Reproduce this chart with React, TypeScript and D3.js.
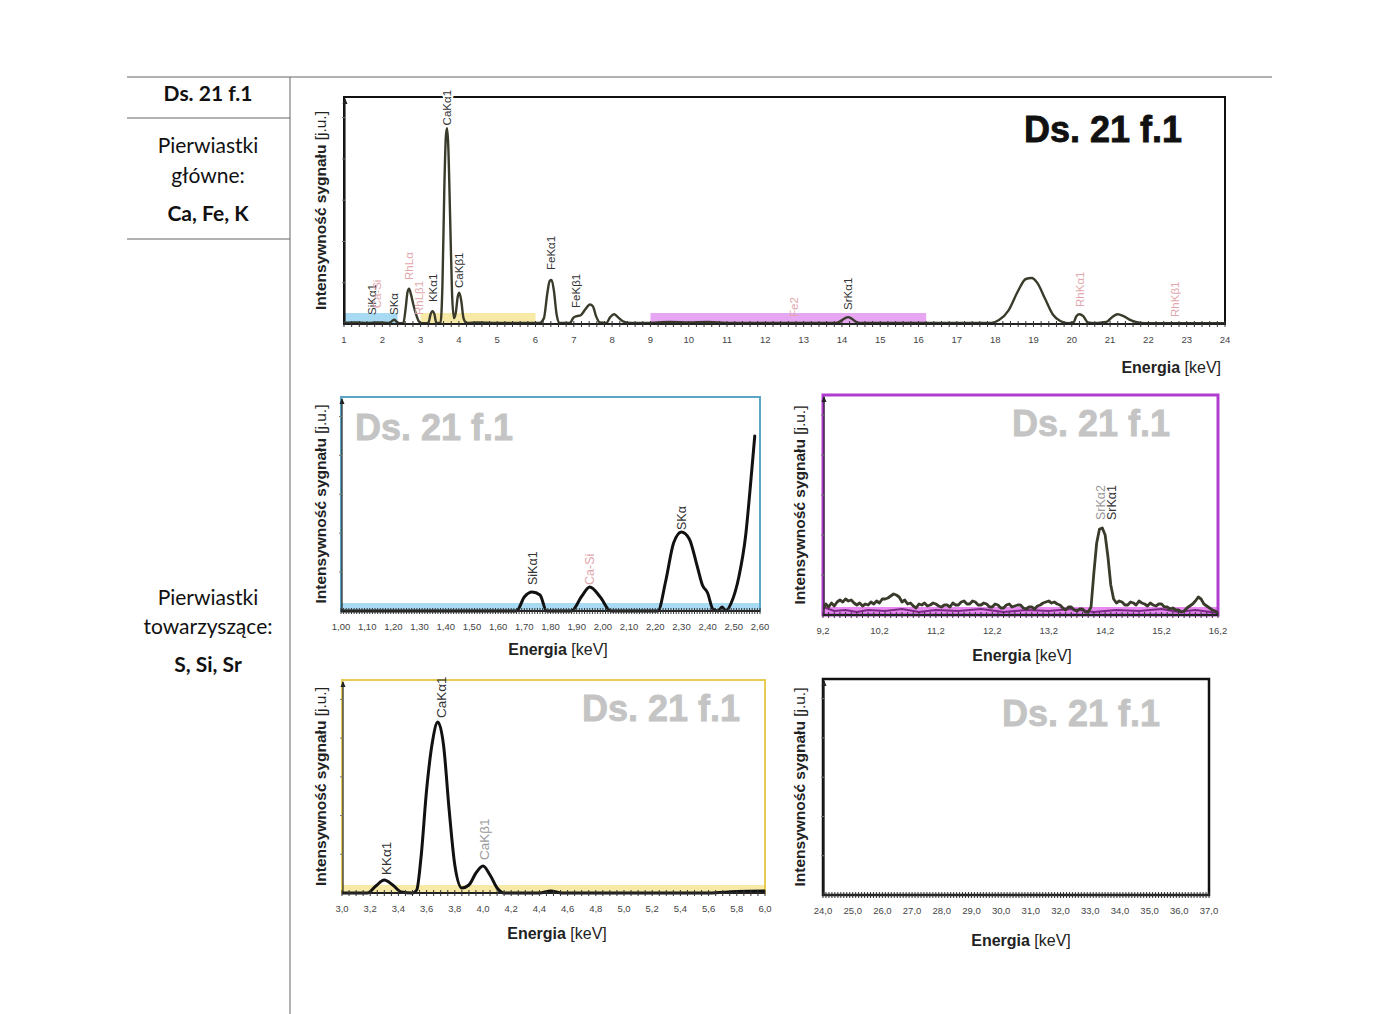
import React from "react";
import * as d3 from "d3";

// ---------------- DATA ----------------
// Full spectrum (keV, intensity a.u.)
const mainSpectrum: [number, number][] = [
  [1.0, 0.6], [1.3, 0.8], [1.6, 0.6], [1.9, 0.8], [2.2, 0.6], [2.27, 1.8], [2.32, 2.2], [2.38, 1.0],
  [2.45, 0.4], [2.55, 0.6], [2.61, 8], [2.66, 16.5], [2.7, 18], [2.75, 15], [2.81, 10], [2.88, 5],
  [2.95, 1.5], [3.02, 0.4], [3.2, 0.4], [3.26, 5], [3.31, 6.6], [3.36, 5], [3.41, 0.6], [3.52, 0.6],
  [3.57, 20], [3.62, 70], [3.66, 96], [3.69, 100], [3.72, 92], [3.77, 55], [3.82, 16], [3.87, 3],
  [3.92, 6], [3.97, 14], [4.01, 16], [4.06, 12], [4.12, 3], [4.2, 0.5], [4.5, 0.8], [5.0, 0.5],
  [5.5, 0.5], [6.1, 0.5], [6.22, 3], [6.31, 16], [6.37, 22], [6.42, 22.5], [6.48, 17], [6.55, 5],
  [6.63, 0.5], [6.9, 0.5], [6.98, 3], [7.08, 4], [7.18, 4.5], [7.3, 7.5], [7.42, 10], [7.5, 9],
  [7.58, 4], [7.68, 0.8], [7.85, 0.6], [7.95, 3.5], [8.05, 5], [8.15, 3.5], [8.3, 1.2], [8.5, 0.5],
  [9.0, 0.6], [9.5, 1.0], [10.0, 0.8], [10.5, 1.0], [11.0, 0.6], [12.0, 0.5], [13.0, 0.5], [13.85, 0.5],
  [14.16, 3.5], [14.45, 0.5], [15.0, 0.5], [16.0, 0.6], [17.0, 0.5], [17.9, 0.6], [18.1, 2], [18.35, 7],
  [18.6, 17], [18.8, 23], [18.95, 23.5], [19.1, 21], [19.3, 13], [19.5, 5], [19.7, 1.5], [19.9, 0.4],
  [20.05, 1], [20.12, 4], [20.2, 5], [20.3, 4], [20.42, 0.8], [20.6, 0.4], [20.9, 1], [21.05, 3.5],
  [21.2, 5], [21.35, 4], [21.55, 1.8], [21.8, 0.6], [22.0, 0.4], [23.0, 0.4], [24.0, 0.4],
];

// Si / S detail (1.00 - 2.60 keV)
const siSpectrum: [number, number][] = [
  [1.0, 0], [1.67, 0], [1.7, 14], [1.73, 19], [1.76, 16], [1.785, 0], [1.88, 0], [1.92, 15],
  [1.95, 24], [1.99, 14], [2.03, 0], [2.21, 0], [2.24, 30], [2.27, 68], [2.3, 79], [2.33, 72],
  [2.36, 45], [2.38, 26], [2.4, 18], [2.42, 2], [2.44, 0], [2.455, 4], [2.47, 0], [2.49, 8],
  [2.52, 35], [2.545, 75], [2.565, 130], [2.58, 175],
];

// Sr detail (9.2 - 16.2 keV)
const srSpectrum: [number, number][] = [
  [9.2, 6], [9.25, 11], [9.3, 8], [9.35, 12], [9.4, 9], [9.45, 13], [9.5, 15], [9.55, 13], [9.6, 16],
  [9.65, 14], [9.7, 15], [9.75, 12], [9.8, 10], [9.85, 12], [9.9, 9], [9.95, 11], [10.0, 10], [10.05, 13],
  [10.1, 11], [10.15, 14], [10.2, 12], [10.25, 16], [10.3, 16], [10.35, 17], [10.4, 19], [10.45, 21],
  [10.5, 20], [10.55, 18], [10.6, 13], [10.65, 15], [10.7, 11], [10.75, 12], [10.8, 9], [10.85, 7],
  [10.9, 11], [10.95, 10], [11.0, 12], [11.05, 9], [11.1, 10], [11.15, 12], [11.2, 11], [11.25, 9],
  [11.3, 8], [11.35, 10], [11.4, 10], [11.45, 8], [11.5, 12], [11.55, 10], [11.6, 10], [11.65, 13],
  [11.7, 14], [11.75, 11], [11.8, 11], [11.85, 14], [11.9, 13], [11.95, 10], [12.0, 10], [12.05, 12],
  [12.1, 11], [12.15, 8], [12.2, 8], [12.25, 11], [12.3, 10], [12.35, 7], [12.4, 7], [12.45, 10],
  [12.5, 11], [12.55, 8], [12.6, 9], [12.65, 10], [12.7, 10], [12.75, 7], [12.8, 6], [12.85, 8],
  [12.9, 8], [12.95, 6], [13.0, 9], [13.05, 10], [13.1, 12], [13.15, 13], [13.2, 14], [13.25, 12],
  [13.3, 13], [13.35, 11], [13.4, 10], [13.45, 7], [13.5, 5], [13.55, 8], [13.6, 8], [13.65, 5],
  [13.7, 4], [13.75, 6], [13.8, 6], [13.85, 3], [13.9, 3], [13.95, 8], [14.0, 42], [14.05, 72],
  [14.1, 86], [14.15, 87], [14.2, 80], [14.25, 58], [14.3, 30], [14.35, 16], [14.4, 12], [14.45, 14],
  [14.5, 13], [14.55, 10], [14.6, 10], [14.65, 13], [14.7, 12], [14.75, 10], [14.8, 14], [14.85, 12],
  [14.9, 11], [14.95, 9], [15.0, 12], [15.05, 10], [15.1, 9], [15.15, 11], [15.2, 11], [15.25, 8],
  [15.3, 8], [15.35, 6], [15.4, 7], [15.45, 5], [15.5, 5], [15.55, 3], [15.6, 4], [15.65, 7],
  [15.7, 9], [15.75, 11], [15.8, 14], [15.85, 18], [15.9, 16], [15.95, 11], [16.0, 9], [16.05, 7],
  [16.1, 5], [16.15, 4], [16.2, 2],
];
const srBackground: [number, number][] = [
  [9.2, 8], [9.4, 4], [9.6, 5], [9.8, 3], [10.0, 5], [10.3, 4], [10.6, 6], [10.9, 3], [11.2, 5],
  [11.6, 4], [12.0, 6], [12.4, 3], [12.8, 5], [13.2, 4], [13.6, 6], [14.0, 3], [14.4, 5], [14.8, 4],
  [15.2, 6], [15.5, 3], [15.8, 5], [16.2, 2],
];

// K / Ca detail (3.0 - 6.0 keV)
const caSpectrum: [number, number][] = [
  [3.0, 0], [3.18, 0], [3.24, 7], [3.3, 13], [3.36, 8], [3.42, 1], [3.5, 0], [3.53, 3], [3.56, 35],
  [3.6, 103], [3.64, 150], [3.68, 171], [3.72, 148], [3.76, 83], [3.8, 28], [3.85, 5], [3.9, 8],
  [3.95, 20], [4.0, 27], [4.05, 18], [4.1, 5], [4.15, 0], [4.4, 0], [4.48, 2], [4.56, 0], [5.6, 0],
  [5.8, 1.5], [6.0, 2],
];

// Tick values
const mainTicks = [1, 2, 3, 4, 5, 6, 7, 8, 9, 10, 11, 12, 13, 14, 15, 16, 17, 18, 19, 20, 21, 22, 23, 24];
const siTicks = [1.0, 1.1, 1.2, 1.3, 1.4, 1.5, 1.6, 1.7, 1.8, 1.9, 2.0, 2.1, 2.2, 2.3, 2.4, 2.5, 2.6];
const srTicks = [9.2, 10.2, 11.2, 12.2, 13.2, 14.2, 15.2, 16.2];
const caTicks = [3.0, 3.2, 3.4, 3.6, 3.8, 4.0, 4.2, 4.4, 4.6, 4.8, 5.0, 5.2, 5.4, 5.6, 5.8, 6.0];
const highTicks = [24, 25, 26, 27, 28, 29, 30, 31, 32, 33, 34, 35, 36, 37];

// Highlighted energy ranges in the full spectrum (keV)
const bandStarts = [1.0, 3.0, 9.0];
const bandEnds = [2.4, 6.0, 16.2];

// Peak labels: name, energy, label base (a.u.), kind
type PeakLabel = { name: string; e: number; v: number; kind: "main" | "ref" | "light" };
const mainLabels: PeakLabel[] = [
  { name: "SiKα1", e: 1.74, v: 4.6, kind: "main" },
  { name: "Ca-Si", e: 1.86, v: 8, kind: "ref" },
  { name: "SKα", e: 2.31, v: 4.6, kind: "main" },
  { name: "RhLα", e: 2.7, v: 22.5, kind: "ref" },
  { name: "RhLβ1", e: 2.95, v: 4.6, kind: "ref" },
  { name: "KKα1", e: 3.31, v: 11.2, kind: "main" },
  { name: "CaKα1", e: 3.69, v: 101.5, kind: "main" },
  { name: "CaKβ1", e: 4.01, v: 18.4, kind: "main" },
  { name: "FeKα1", e: 6.4, v: 27.6, kind: "main" },
  { name: "FeKβ1", e: 7.06, v: 8.2, kind: "main" },
  { name: "Fe2", e: 12.75, v: 3.6, kind: "ref" },
  { name: "SrKα1", e: 14.16, v: 7.2, kind: "main" },
  { name: "RhKα1", e: 20.2, v: 8.7, kind: "ref" },
  { name: "RhKβ1", e: 22.7, v: 3.6, kind: "ref" },
];
const siLabels: PeakLabel[] = [
  { name: "SiKα1", e: 1.73, v: 26, kind: "main" },
  { name: "Ca-Si", e: 1.95, v: 26, kind: "ref" },
  { name: "SKα", e: 2.3, v: 81, kind: "main" },
];
const srLabels: PeakLabel[] = [
  { name: "SrKα2", e: 14.11, v: 95, kind: "light" },
  { name: "SrKα1", e: 14.32, v: 95, kind: "main" },
];
const caLabels: PeakLabel[] = [
  { name: "KKα1", e: 3.31, v: 18, kind: "main" },
  { name: "CaKα1", e: 3.7, v: 175, kind: "main" },
  { name: "CaKβ1", e: 4.01, v: 33, kind: "light" },
];

// ---------------- LAYOUT ----------------
const ARIAL = "'Liberation Sans', Arial, Helvetica, sans-serif";
const CAL = "Lato, 'Open Sans', sans-serif";

type Series = { data: [number, number][]; color: string; width: number; curve: any };
type PanelCfg = {
  x0: number; x1: number; y0: number; y1: number;
  xDomain: [number, number]; yMax: number;
  frame: string; frameWidth: number;
  series: Series[];
  ticks: number[]; fmt: (v: number) => string; minorStep: number;
  labels: PeakLabel[]; labelSize: number;
  wmX: number; wmY: number; wmAnchor: string; wmColor: string;
  yLabelX: number; energyX: number; energyY: number; energyAnchor: string;
  bottomBand?: string; bands?: { s: number; e: number; c: string }[];
};

const comma = (d: number) => (v: number) => v.toFixed(d).replace(".", ",");

const bandColors = ["#a9daf3", "#f7eaa6", "#e6a6f2"];

const panels: PanelCfg[] = [
  {
    x0: 344, x1: 1225, y0: 97, y1: 324, xDomain: [1, 24], yMax: 116,
    frame: "#111", frameWidth: 2,
    series: [{ data: mainSpectrum, color: "#3b3b2c", width: 2.4, curve: d3.curveMonotoneX }],
    ticks: mainTicks, fmt: comma(0), minorStep: 0.2,
    labels: mainLabels, labelSize: 11.5,
    wmX: 1182, wmY: 142, wmAnchor: "end", wmColor: "#111",
    yLabelX: 321, energyX: 1221, energyY: 373, energyAnchor: "end",
    bands: bandStarts.map((s, i) => ({ s, e: bandEnds[i], c: bandColors[i] })),
  },
  {
    x0: 341, x1: 760, y0: 397, y1: 611, xDomain: [1, 2.6], yMax: 214,
    frame: "#5aa6c4", frameWidth: 2,
    series: [{ data: siSpectrum, color: "#111", width: 3, curve: d3.curveMonotoneX }],
    ticks: siTicks, fmt: comma(2), minorStep: 0.01,
    labels: siLabels, labelSize: 12.5,
    wmX: 355, wmY: 440, wmAnchor: "start", wmColor: "#c4c4c4",
    yLabelX: 321, energyX: 558, energyY: 655, energyAnchor: "middle",
    bottomBand: "#a9daf3",
  },
  {
    x0: 823, x1: 1218, y0: 395, y1: 615, xDomain: [9.2, 16.2], yMax: 220,
    frame: "#b13cd0", frameWidth: 3,
    series: [
      { data: srBackground, color: "#7b2a86", width: 2, curve: d3.curveLinear },
      { data: srSpectrum, color: "#3b3b2c", width: 2.8, curve: d3.curveLinear },
    ],
    ticks: srTicks, fmt: comma(1), minorStep: 0.1,
    labels: srLabels, labelSize: 12.5,
    wmX: 1170, wmY: 436, wmAnchor: "end", wmColor: "#c4c4c4",
    yLabelX: 800, energyX: 1022, energyY: 661, energyAnchor: "middle",
    bottomBand: "#e98af0",
  },
  {
    x0: 342, x1: 765, y0: 680, y1: 893, xDomain: [3, 6], yMax: 213,
    frame: "#e6cc55", frameWidth: 2,
    series: [{ data: caSpectrum, color: "#111", width: 3, curve: d3.curveMonotoneX }],
    ticks: caTicks, fmt: comma(1), minorStep: 0.05,
    labels: caLabels, labelSize: 13.5,
    wmX: 740, wmY: 721, wmAnchor: "end", wmColor: "#c4c4c4",
    yLabelX: 321, energyX: 557, energyY: 939, energyAnchor: "middle",
    bottomBand: "#f7eaa6",
  },
  {
    x0: 823, x1: 1209, y0: 679, y1: 895, xDomain: [24, 37], yMax: 100,
    frame: "#111", frameWidth: 2.5,
    series: [],
    ticks: highTicks, fmt: comma(1), minorStep: 0.1,
    labels: [], labelSize: 12,
    wmX: 1160, wmY: 726, wmAnchor: "end", wmColor: "#c4c4c4",
    yLabelX: 800, energyX: 1021, energyY: 946, energyAnchor: "middle",
  },
];

const labelColor = (k: string) => (k === "main" ? "#333" : k === "ref" ? "#e2a7ad" : "#9a9a9a");

function Panel({ cfg, idx }: { cfg: PanelCfg; idx: number }) {
  const x = d3.scaleLinear().domain(cfg.xDomain).range([cfg.x0, cfg.x1]);
  const y = d3.scaleLinear().domain([0, cfg.yMax]).range([cfg.y1, cfg.y0]);
  const minor = d3.range(cfg.xDomain[0], cfg.xDomain[1] + cfg.minorStep / 2, cfg.minorStep);
  const yTicks = d3.range(1, 6).map((k) => cfg.y1 - ((cfg.y1 - cfg.y0) * k) / 5.5);
  const clipId = `clip${idx}`;
  const midY = (cfg.y0 + cfg.y1) / 2;
  return (
    <g>
      <defs>
        <clipPath id={clipId}>
          <rect x={cfg.x0} y={cfg.y0 - 2} width={cfg.x1 - cfg.x0} height={cfg.y1 - cfg.y0 + 4} />
        </clipPath>
      </defs>
      {cfg.bands &&
        cfg.bands.map((b, i) => (
          <rect key={i} x={x(b.s)} y={cfg.y1 - 11} width={x(b.e) - x(b.s)} height={11} fill={b.c} />
        ))}
      {cfg.bottomBand && (
        <rect x={cfg.x0} y={cfg.y1 - 8} width={cfg.x1 - cfg.x0} height={8} fill={cfg.bottomBand} />
      )}
      <rect x={cfg.x0} y={cfg.y0} width={cfg.x1 - cfg.x0} height={cfg.y1 - cfg.y0} fill="none"
        stroke={cfg.frame} strokeWidth={cfg.frameWidth} />
      {/* y axis */}
      <line x1={cfg.x0 + 1} x2={cfg.x0 + 1} y1={cfg.y0 + 2} y2={cfg.y1} stroke="#222" strokeWidth={1.2} />
      <path d={`M${cfg.x0 + 1},${cfg.y0 + 1} l-2.5,6 l5,0 z`} fill="#222" />
      {yTicks.map((t, i) => (
        <line key={i} x1={cfg.x0 - 2} x2={cfg.x0 + 1} y1={t} y2={t} stroke="#777" strokeWidth={1} />
      ))}
      <g clipPath={`url(#${clipId})`}>
        {cfg.series.map((s, i) => {
          const line = d3.line<[number, number]>().x((d) => x(d[0])).y((d) => y(d[1])).curve(s.curve);
          return (
            <path key={i} d={line(s.data) || ""} fill="none" stroke={s.color} strokeWidth={s.width}
              strokeLinejoin="round" strokeLinecap="round" />
          );
        })}
      </g>
      {/* baseline with dense ticks */}
      <line x1={cfg.x0} x2={cfg.x1} y1={cfg.y1} y2={cfg.y1} stroke="#222" strokeWidth={2} />
      {minor.map((m, i) => (
        <line key={i} x1={x(m)} x2={x(m)} y1={cfg.y1 - 3} y2={cfg.y1 + 3} stroke="#333" strokeWidth={1} />
      ))}
      {/* tick labels */}
      {cfg.ticks.map((t, i) => (
        <text key={i} x={x(t)} y={cfg.y1 + 19} textAnchor="middle" fontFamily={ARIAL} fontSize={9.5}
          fill="#444">{cfg.fmt(t)}</text>
      ))}
      {/* peak labels */}
      {cfg.labels.map((l, i) => (
        <text key={i} transform={`translate(${x(l.e)},${y(l.v)}) rotate(-90)`} dy="0.36em"
          fontFamily={ARIAL} fontSize={cfg.labelSize} fill={labelColor(l.kind)}
          stroke={l.name === "CaKα1" && idx === 0 ? "#fff" : "none"} strokeWidth={4}
          style={{ paintOrder: "stroke" }}>{l.name}</text>
      ))}
      {/* watermark */}
      <text x={cfg.wmX} y={cfg.wmY} textAnchor={cfg.wmAnchor} fontFamily={ARIAL} fontWeight="bold"
        fontSize={36} fill={cfg.wmColor} stroke={cfg.wmColor} strokeWidth={0.8}>Ds. 21 f.1</text>
      {/* axis titles */}
      <text transform={`translate(${cfg.yLabelX},${midY}) rotate(-90)`} textAnchor="middle" dy="0.35em"
        fontFamily={ARIAL} fontSize={15.5} fill="#222">
        <tspan fontWeight="bold">Intensywność sygnału </tspan>
        <tspan>[j.u.]</tspan>
      </text>
      <text x={cfg.energyX} y={cfg.energyY} textAnchor={cfg.energyAnchor} fontFamily={ARIAL} fontSize={16}
        fill="#222">
        <tspan fontWeight="bold">Energia</tspan>
        <tspan> [keV]</tspan>
      </text>
    </g>
  );
}

export default function App() {
  return (
    <svg width={1400} height={1014} viewBox="0 0 1400 1014"
      style={{ position: "absolute", left: 0, top: 0, background: "#fff" }}>
      <rect width={1400} height={1014} fill="#fff" />
      {/* page table lines */}
      <line x1={127} x2={1272} y1={77} y2={77} stroke="#666" strokeWidth={1} />
      <line x1={290} x2={290} y1={77} y2={1014} stroke="#666" strokeWidth={1} />
      <line x1={127} x2={290} y1={118} y2={118} stroke="#666" strokeWidth={1} />
      <line x1={127} x2={290} y1={239} y2={239} stroke="#666" strokeWidth={1} />
      <g fontFamily={CAL} fontSize={21} fill="#111" textAnchor="middle">
        <text x={208} y={101} fontWeight="bold">Ds. 21 f.1</text>
        <text x={208} y={153}>Pierwiastki</text>
        <text x={208} y={183}>główne:</text>
        <text x={208} y={221} fontWeight="bold">Ca, Fe, K</text>
        <text x={208} y={605}>Pierwiastki</text>
        <text x={208} y={634}>towarzyszące:</text>
        <text x={208} y={672} fontWeight="bold">S, Si, Sr</text>
      </g>
      {panels.map((p, i) => (
        <Panel key={i} cfg={p} idx={i} />
      ))}
    </svg>
  );
}
